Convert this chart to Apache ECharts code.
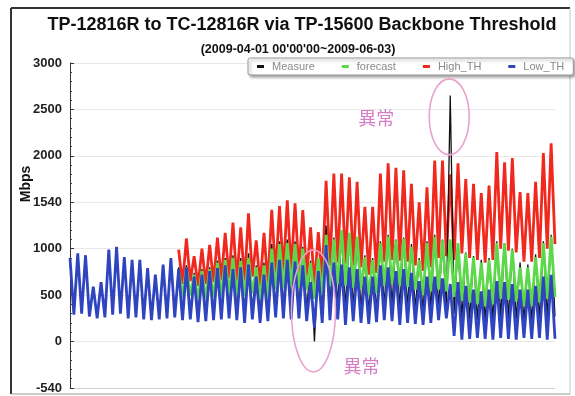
<!DOCTYPE html>
<html><head><meta charset="utf-8">
<script src="https://cdn.jsdelivr.net/npm/echarts/dist/echarts.min.js"></script>
<style>html,body{margin:0;padding:0;background:#fff}#c{width:575px;height:396px}</style>
</head><body><div id="c"></div>
<script>
// ---- data (one daytime peak + one night trough per day) ----
const startDay = '2009-04-01';
const N = 63;
const yTickValues = [-500, 0, 500, 1000, 1500, 2000, 2500, 3000];
const yTickLabels = ['-540', '0', '500', '1000', '1540', '2000', '2500', '3000'];
const legendNames = ['Measure', 'forecast', 'High_TH', 'Low_TH'];

const measurePeak = [880,930,900,570,620,960,1000,890,860,850,770,700,810,880,
 800,820,740,780,800,870,900,930,900,950,820,850,1050,1080,1100,1080,1020,870,
 880,1250,1120,1150,1150,1100,930,900,1080,1150,1100,1120,1050,900,1080,1150,1100,
 2650,1050,960,920,880,900,1080,1060,1000,850,830,940,1080,1150];
const measureLow = [310,320,290,270,280,310,320,270,280,260,250,260,270,280,
 320,330,300,310,320,330,340,330,320,340,300,310,360,370,370,360,340,0,
 320,380,390,370,360,350,320,330,380,390,370,370,350,320,340,360,350,
 300,250,240,230,220,230,260,250,240,220,220,240,260,270];

const forecastPeak = [null,null,null,null,null,null,null,null,null,null,null,null,null,null,
 760,800,720,760,780,850,880,900,870,900,800,820,1000,1050,1060,1050,1000,850,
 900,1150,1100,1200,1170,1130,910,880,1060,1130,1090,1110,1020,880,1060,1130,1090,
 1100,1060,950,910,850,880,1060,1060,990,800,800,910,1060,1130];
const forecastLow = [null,null,null,null,null,null,null,null,null,null,null,null,null,null,
 480,500,460,470,480,500,520,500,490,520,460,470,560,580,600,580,560,460,
 500,600,620,600,580,570,500,520,600,620,600,590,560,500,540,560,540,
 480,440,420,400,380,400,460,450,430,380,380,420,460,480];

const highPeak = [null,null,null,null,null,null,null,null,null,null,null,null,null,null,
 990,1110,920,1000,1040,1120,1170,1280,1230,1380,1090,1170,1420,1460,1520,1490,1415,1230,
 1180,1730,1810,1810,1770,1720,1450,1450,1810,1920,1870,1845,1700,1500,1660,1950,1950,
 1800,1920,1750,1700,1600,1680,2040,1930,1975,1610,1600,1720,2030,2135];
const highLow = [null,null,null,null,null,null,null,null,null,null,null,null,null,null,
 620,650,600,620,640,660,680,650,650,700,600,620,720,740,760,740,700,600,
 650,820,850,840,820,800,720,740,860,880,870,860,820,760,800,900,920,
 880,950,900,880,850,880,1000,980,960,860,860,900,1000,1050];

const lowPeak = [900,950,930,590,640,990,1020,910,880,880,790,720,830,900,
 780,800,700,720,760,790,820,780,800,830,700,720,850,880,880,860,820,640,
 760,1040,850,830,800,780,700,700,820,800,760,780,740,650,700,700,680,
 620,640,600,560,540,560,650,640,620,560,560,600,700,720];
const lowLow = [290,300,270,250,260,290,300,250,260,240,230,240,250,260,
 230,240,210,220,230,240,250,230,200,240,200,220,260,250,240,250,220,150,
 200,230,240,180,220,200,190,210,230,220,180,200,190,180,200,230,250,
 60,20,30,40,30,20,40,30,20,40,30,40,20,30];

// ---- build categories / series from the arrays ----
const categories = [];
const d0 = new Date(startDay + 'T00:00:00Z');
for (let i = 0; i < N; i++) {
  const d = new Date(d0.getTime() + i * 86400000);
  const dn = new Date(d0.getTime() + (i + 1) * 86400000);
  categories.push(d.toISOString().slice(0, 10) + ' 12h');
  categories.push(dn.toISOString().slice(0, 10) + ' 00h');
}
function zig(peak, low) {
  const out = [];
  for (let i = 0; i < peak.length; i++) { out.push(peak[i]); out.push(low[i]); }
  return out;
}

const FONT = 'Liberation Sans, Arial, sans-serif';
const chart = echarts.init(document.getElementById('c'), null, {renderer: 'canvas'});

const option = {
  animation: false,
  backgroundColor: '#fff',
  title: [
    {text: 'TP-12816R to TC-12816R via TP-15600 Backbone Threshold', left: 297, top: 11, textAlign: 'center',
     textStyle: {fontSize: 18, fontWeight: 'bold', color: '#111', fontFamily: FONT}},
    {text: "(2009-04-01 00'00'00~2009-06-03)", left: 293, top: 38, textAlign: 'center',
     textStyle: {fontSize: 12.5, fontWeight: 'bold', color: '#111', fontFamily: FONT}}
  ],
  legend: {
    data: legendNames, left: 248, top: 58, orient: 'horizontal',
    padding: [3, 9, 3, 9], itemGap: 27, itemWidth: 7, itemHeight: 3, icon: 'rect',
    backgroundColor: '#fff', borderColor: '#999', borderWidth: 1, borderRadius: 2,
    shadowColor: 'rgba(0,0,0,0.35)', shadowBlur: 3, shadowOffsetX: 2, shadowOffsetY: 2,
    textStyle: {fontSize: 11, color: '#8a8a8a', fontFamily: FONT, padding: [0, 0, 0, 3]}
  },
  grid: {left: 70, right: 20, top: 63, bottom: 8, containLabel: false},
  xAxis: {
    type: 'category', data: categories, boundaryGap: false,
    axisLine: {onZero: false, lineStyle: {color: '#cfcfcf'}},
    axisTick: {show: false}, axisLabel: {show: false}, splitLine: {show: false}
  },
  yAxis: {
    type: 'value', min: -500, max: 3000, interval: 500,
    axisLine: {show: true, lineStyle: {color: '#333', width: 1}},
    axisTick: {show: true, inside: true, length: 4, lineStyle: {color: '#333'}},
    minorTick: {show: true, splitNumber: 5, length: 2, lineStyle: {color: '#444'}},
    axisLabel: {formatter: v => yTickLabels[yTickValues.indexOf(v)], fontSize: 13, fontWeight: 'bold',
      color: '#222', margin: 8, fontFamily: FONT},
    splitLine: {lineStyle: {color: '#e8e8e8'}}
  },
  series: [
    {name: 'Measure', type: 'line', data: zig(measurePeak, measureLow), showSymbol: false, z: 3,
     color: '#111', lineStyle: {width: 1.3, color: '#111'}},
    {name: 'forecast', type: 'line', data: zig(forecastPeak, forecastLow), showSymbol: false, z: 4,
     color: '#5cd84a', lineStyle: {width: 2.8, color: '#5cd84a'}},
    {name: 'High_TH', type: 'line', data: zig(highPeak, highLow), showSymbol: false, z: 2,
     color: '#f0281e', lineStyle: {width: 2.8, color: '#f0281e'}},
    {name: 'Low_TH', type: 'line', data: zig(lowPeak, lowLow), showSymbol: false, z: 5,
     color: '#2f45c0', lineStyle: {width: 2.8, color: '#2f45c0'}}
  ]
};
chart.setOption(option);

// ---- annotations anchored to the data ----
const spikeIdx = 2 * measurePeak.indexOf(Math.max(...measurePeak));
const dipIdx = 2 * measureLow.indexOf(Math.min(...measureLow)) + 1;
const e1 = chart.convertToPixel({gridIndex: 0}, [spikeIdx, 2420]);
const e2 = chart.convertToPixel({gridIndex: 0}, [dipIdx, 330]);
const PINK = '#e9a3cd';
const TXT = '#d47ec6';
chart.setOption({
  graphic: [
    {type: 'line', shape: {x1: 11, y1: 8, x2: 570, y2: 8}, style: {stroke: '#333', lineWidth: 2}},
    {type: 'line', shape: {x1: 11, y1: 8, x2: 11, y2: 394}, style: {stroke: '#333', lineWidth: 2}},
    {type: 'line', shape: {x1: 570, y1: 8, x2: 570, y2: 394}, style: {stroke: '#c8c8c8', lineWidth: 1}},
    {type: 'line', shape: {x1: 11, y1: 394, x2: 570, y2: 394}, style: {stroke: '#999', lineWidth: 1}},
    {type: 'text', x: 26, y: 184, rotation: Math.PI / 2,
     style: {text: 'Mbps', fontSize: 14, fontWeight: 'bold', fill: '#111', align: 'center', verticalAlign: 'middle', fontFamily: FONT}},
    {type: 'ellipse', shape: {cx: e1[0] - 1, cy: e1[1], rx: 20, ry: 38}, style: {fill: 'none', stroke: PINK, lineWidth: 1.6}, z: 100},
    {type: 'ellipse', shape: {cx: e2[0] - 1, cy: e2[1], rx: 22, ry: 61}, style: {fill: 'none', stroke: PINK, lineWidth: 1.6}, z: 100},
    {type: 'text', x: e1[0] - 74, y: e1[1] + 1, z: 100,
     style: {text: '異常', fontSize: 18, fill: TXT, align: 'center', verticalAlign: 'middle', fontFamily: 'Noto Sans CJK TC'}},
    {type: 'text', x: e2[0] + 47, y: e2[1] + 55, z: 100,
     style: {text: '異常', fontSize: 18, fill: TXT, align: 'center', verticalAlign: 'middle', fontFamily: 'Noto Sans CJK TC'}}
  ]
});
</script>
</body></html>
